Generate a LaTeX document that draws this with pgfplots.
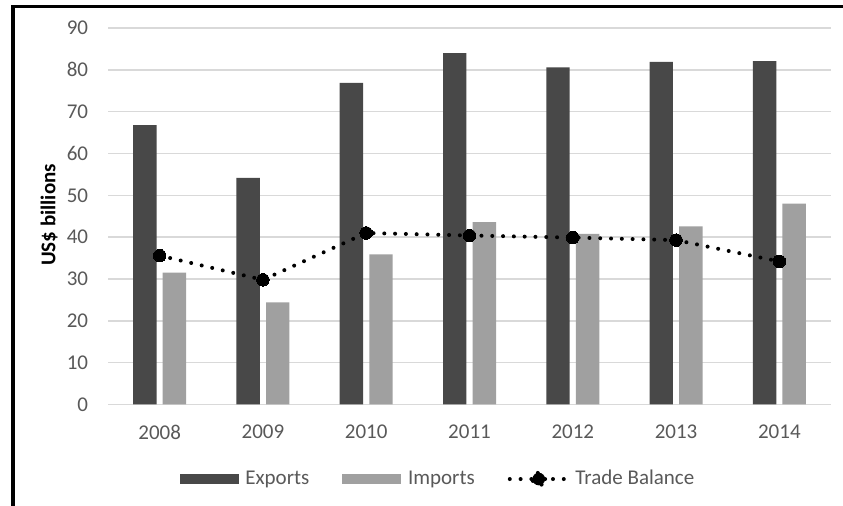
\documentclass[border=0pt]{standalone}
\usepackage{pgfplots}
\pgfplotsset{compat=1.18}
\usepackage{fontspec}
\setmainfont{Carlito}
\definecolor{expc}{HTML}{484848}
\definecolor{impc}{HTML}{A0A0A0}
\definecolor{gridc}{HTML}{D9D9D9}
\definecolor{txtc}{HTML}{595959}
\begin{document}
\fontsize{21bp}{25bp}\selectfont
\begin{tikzpicture}
\useasboundingbox (0,0) rectangle (843bp,506bp);
\fill[white] (0,0) rectangle (843bp,506bp);
\fill[black] (11bp,0bp) rectangle (15bp,501bp);
\fill[black] (11bp,497.7bp) rectangle (843bp,501bp);
\begin{axis}[
  at={(108bp,101.5bp)}, anchor=south west,
  scale only axis, width=723bp, height=376.5bp,
  xmin=-0.5, xmax=6.5, ymin=0, ymax=90,
  xtick={0,...,6}, xticklabels={2008,2009,2010,2011,2012,2013,2014},
  ytick={0,10,...,90},
  major tick length=0pt,
  axis line style={draw=none},
  ymajorgrids, grid style={gridc, line width=1.4bp},
  /pgf/number format/assume math mode=true,
  tick label style={font=\fontsize{21bp}{25bp}\selectfont, text=txtc, inner sep=0pt},
  yticklabel style={anchor=east},
  xticklabel style={anchor=north},
  yticklabel shift=19.7bp,
  xticklabel shift=20.5bp,
  bar width=23.4bp,
  clip=false,
  legend columns=3,
  legend style={at={(0.455,-0.198)}, anchor=center, draw=none, fill=none,
    font=\fontsize{21bp}{25bp}\selectfont, text=txtc,
    nodes={inner sep=0pt},
    /tikz/every odd column/.append style={column sep=6.7bp},
    /tikz/every even column/.append style={column sep=33bp}},
  legend cell align=left,
]
\addplot[ybar, bar shift=-14.8bp, fill=expc, draw=none,
  legend image code/.code={\fill[expc] (0bp,-5bp) rectangle (59bp,5bp);}]
  coordinates {(0,66.8) (1,54.2) (2,76.9) (3,84.0) (4,80.6) (5,81.9) (6,82.1)};
\addlegendentry{Exports}
\addplot[ybar, bar shift=14.8bp, fill=impc, draw=none,
  legend image code/.code={\fill[impc] (0bp,-5bp) rectangle (59bp,5bp);}]
  coordinates {(0,31.5) (1,24.4) (2,35.9) (3,43.6) (4,40.8) (5,42.6) (6,48.0)};
\addlegendentry{Imports}
\addplot[black, line width=4bp, line cap=round, dash pattern=on 0bp off 10.8bp,
  mark=*, mark size=6.3bp, mark options={solid, line width=0pt, fill=black},
  legend image code/.code={
    \draw[black, line width=4bp, line cap=round, dash pattern=on 0bp off 10.8bp] (2bp,0bp) -- (59bp,0bp);
    \fill[black] (31bp,0bp) circle (6.3bp);}]
  coordinates {(0,35.6) (1,29.8) (2,41.0) (3,40.4) (4,39.9) (5,39.3) (6,34.2)};
\addlegendentry{Trade Balance}
\end{axis}
\node[rotate=90, font=\bfseries\fontsize{21bp}{25bp}\selectfont, text=black] at (49bp,291bp) {US\$ billions};
\end{tikzpicture}
\end{document}
